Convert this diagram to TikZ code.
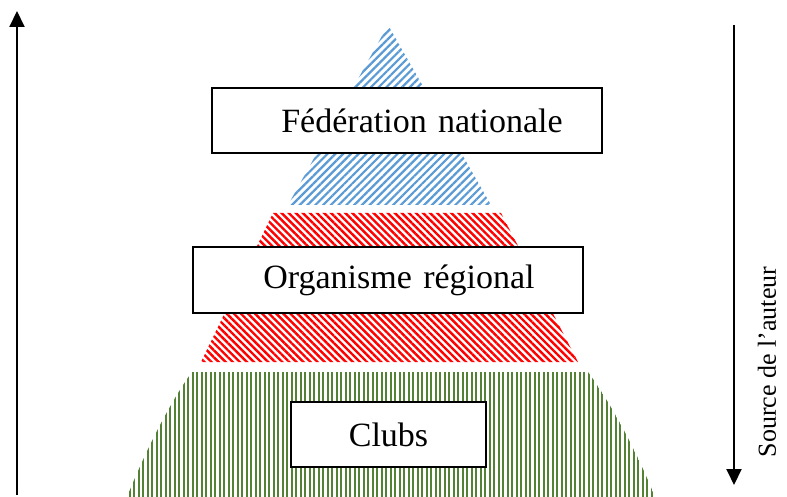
\documentclass[tikz,border=0pt]{standalone}
\usepackage{fontspec}
\setmainfont{Liberation Serif}
\usetikzlibrary{arrows.meta, patterns.meta}
\usetikzlibrary{positioning}
\definecolor{fed_blue}{RGB}{91,155,213}
\definecolor{reg_red}{RGB}{255,0,0}
\definecolor{club_green}{RGB}{84,130,53}
\tikzstyle{level_box} = [
    draw=black, 
    line width=1.5pt, 
    fill=white, 
    align=center, 
    inner sep=0pt, 
    font=\fontsize{34}{40}\selectfont
]
\tikzstyle{blue_band} = [
    pattern={Lines[angle=45, distance=5.5pt, line width=2.2pt]}, 
    pattern color=fed_blue
]
\tikzstyle{red_band} = [
    pattern={Lines[angle=-45, distance=5pt, line width=2.4pt]}, 
    pattern color=reg_red
]
\tikzstyle{green_stroke} = [
    draw=club_green, 
    line width=2pt
]
\tikzstyle{axis_arrow} = [
    line width=2pt, 
    -{Triangle[length=16pt, width=15pt]}
]

\begin{document}
\begin{tikzpicture}[x=1pt, y=-1pt]
\useasboundingbox (0,0) rectangle (787,497);

% pyramid bands
\fill[blue_band] (388,25) -- (491,205) -- (288,205) -- cycle;
\fill[red_band] (273,213) -- (501,213) -- (578,362) -- (201,362) -- cycle;
\begin{scope}
    \clip (192,372) -- (588,372)
        .. controls (605,395) and (632,440) .. (655,497)
        -- (127,497) .. controls (150,440) and (175,395) .. (192,372) -- cycle;
    \foreach \x in {125,129.5,...,660}
        \draw[green_stroke] (\x,370) -- (\x,499);
\end{scope}

% levels
\node [level_box, minimum width=390pt, minimum height=65pt, text width=390pt] 
    (federation) at (407,120.5) {\hspace*{30pt}Fédération nationale};
\node [level_box, minimum width=390pt, minimum height=66pt, text width=390pt] 
    (region) at (388,280) {\hspace*{22pt}Organisme régional};
\node [level_box, minimum width=195pt, minimum height=65pt] 
    (clubs) at (388.5,434.5) {Clubs};

% side arrows
\coordinate (up_from) at (17,495);
\coordinate (up_to) at (17,11);
\coordinate (down_from) at (734,25);
\coordinate (down_to) at (734,485);
\draw [axis_arrow] (up_from) -- (up_to);
\draw [axis_arrow] (down_from) -- (down_to);

\node [rotate=90, font=\fontsize{26}{30}\selectfont] 
    (source) at (767,362) {Source de l'auteur};
\end{tikzpicture}
\end{document}
